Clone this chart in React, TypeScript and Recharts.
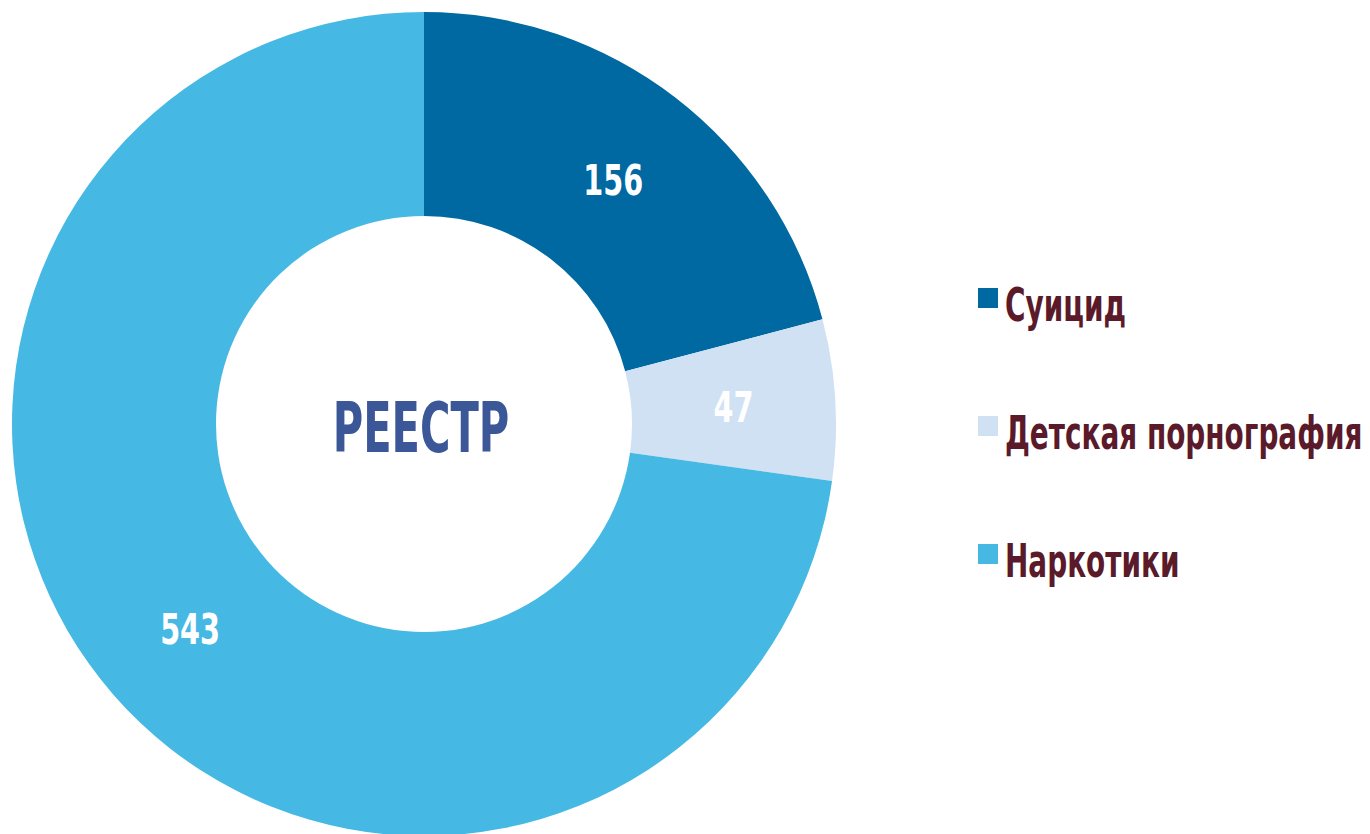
import React from 'react';
import { PieChart, Pie, Cell, Legend } from 'recharts';

const categories = ['Суицид', 'Детская порнография', 'Наркотики'];
const counts = [156, 47, 543];
const colors = ['#0069A1', '#CFE1F3', '#45B8E4'];
const centerTitle = 'РЕЕСТР';

const data = categories.map((name, i) => ({ name, value: counts[i] }));

const FONT = "'DejaVu Sans Condensed', 'DejaVu Sans', sans-serif";
const RAD = Math.PI / 180;

// the reference uses a very narrow DIN-like face, so squeeze the condensed one
const renderLabel = (props: any) => {
  const { cx, cy, midAngle, innerRadius, outerRadius, value } = props;
  const r = (innerRadius + outerRadius) / 2;
  const x = cx + r * Math.cos(-midAngle * RAD);
  const y = cy + r * Math.sin(-midAngle * RAD);
  return (
    <text
      transform={`translate(${x},${y + 2}) scale(0.76,1)`}
      fill="#ffffff"
      textAnchor="middle"
      dominantBaseline="central"
      fontFamily={FONT}
      fontWeight="bold"
      fontSize={42}
    >
      {value}
    </text>
  );
};

const renderLegend = (props: any) => {
  const items = [...(props.payload || [])].sort(
    (a: any, b: any) => categories.indexOf(a.value) - categories.indexOf(b.value)
  );
  return (
    <div style={{ display: 'flex', flexDirection: 'column', gap: 80 }}>
      {items.map((entry: any, i: number) => (
        <div key={`leg-${i}`} style={{ display: 'flex', alignItems: 'flex-start' }}>
          <span
            style={{
              width: 20,
              height: 20,
              background: entry.color,
              marginTop: 7,
              marginRight: 7,
              flexShrink: 0,
            }}
          />
          <span
            style={{
              display: 'inline-block',
              fontFamily: FONT,
              fontWeight: 'bold',
              fontSize: 47,
              lineHeight: '48px',
              color: '#5A1A2A',
              whiteSpace: 'nowrap',
              transform: 'scaleX(0.66)',
              transformOrigin: 'left center',
            }}
          >
            {entry.value}
          </span>
        </div>
      ))}
    </div>
  );
};

const App: React.FC = () => {
  return (
    <div style={{ position: 'absolute', left: 0, top: 0, width: 1370, height: 834, background: '#fff' }}>
      <PieChart width={1370} height={834} margin={{ top: 0, right: 0, bottom: 0, left: 0 }}>
        <Pie
          data={data}
          dataKey="value"
          nameKey="name"
          cx={424}
          cy={424}
          innerRadius={208}
          outerRadius={412}
          startAngle={90}
          endAngle={-270}
          stroke="none"
          label={renderLabel}
          labelLine={false}
          isAnimationActive={false}
        >
          {data.map((entry, index) => (
            <Cell key={`cell-${index}`} fill={colors[index]} />
          ))}
        </Pie>
        <text
          transform="translate(421,428) scale(0.66,1)"
          textAnchor="middle"
          dominantBaseline="central"
          fill="#3B5797"
          fontFamily={FONT}
          fontWeight="bold"
          fontSize={70}
        >
          {centerTitle}
        </text>
        <Legend
          layout="vertical"
          align="right"
          verticalAlign="top"
          content={renderLegend}
          wrapperStyle={{ left: 978, top: 281, width: 392 }}
        />
      </PieChart>
    </div>
  );
};

export default App;
